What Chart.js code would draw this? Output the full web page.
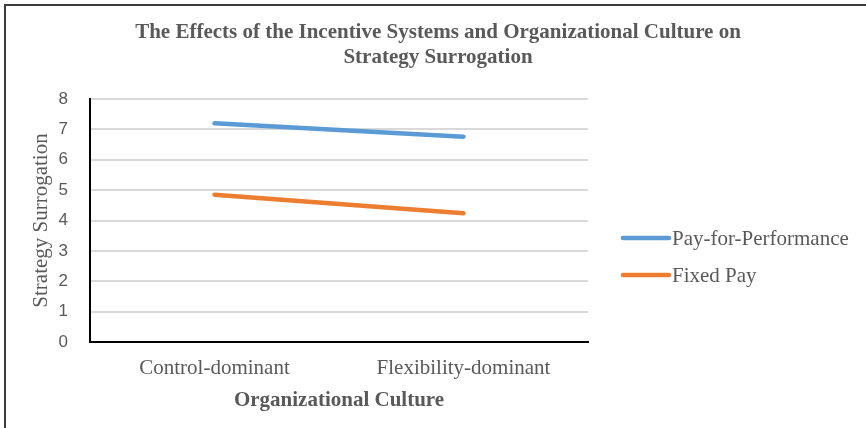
<!DOCTYPE html>
<html>
<head>
<meta charset="utf-8">
<script src="https://cdn.jsdelivr.net/npm/chart.js@4"></script>
<style>
    body { margin: 0; background: #fff; }
    #marco {
        position: absolute; left: 4px; top: 4px; width: 866px; height: 428px;
        border-top: 2px solid #3c3c3c; border-left: 2px solid #3c3c3c;
    }
    #lienzo { position: absolute; left: 0; top: 0; }
</style>
</head>
<body>
<div id="marco"></div>
<div id="lienzo" style="width:866px;height:428px"><canvas id="graficoCultura"></canvas></div>
<script>
// ------------------------------------------------ DATOS ------------------------------------------------

    const categorias = ["Control-dominant", "Flexibility-dominant"];
    const payForPerformance = [7.2, 6.76];
    const fixedPay = [4.85, 4.24];
    const ticksY = [0, 1, 2, 3, 4, 5, 6, 7, 8];
    const tituloLineas = ['The Effects of the Incentive Systems and Organizational Culture on', 'Strategy Surrogation'];

    const gris = '#595959';
    const serif = '"Liberation Serif", "Times New Roman", serif';

// ------------------------------------------------ TITULO Y LEYENDA A MANO ------------------------------------------------

    const tituloYLeyenda = {
        id: 'tituloYLeyenda',
        afterDraw(chart) {
            const ctx = chart.ctx;
            ctx.save();
            // titulo centrado en todo el lienzo
            ctx.fillStyle = gris;
            ctx.font = 'bold 21px ' + serif;
            ctx.textAlign = 'center';
            ctx.textBaseline = 'middle';
            tituloLineas.forEach((t, i) => ctx.fillText(t, 438, 33 + i * 25));

            // leyenda a la derecha
            const ys = [238, 275];
            ctx.textAlign = 'left';
            chart.data.datasets.forEach((ds, i) => {
                ctx.strokeStyle = ds.borderColor;
                ctx.lineWidth = 4.5;
                ctx.lineCap = 'round';
                ctx.beginPath();
                ctx.moveTo(623, ys[i]);
                ctx.lineTo(669, ys[i]);
                ctx.stroke();
                ctx.fillStyle = gris;
                ctx.font = '21px ' + serif;
                ctx.fillText(ds.label, 672, ys[i] + 1);
            });
            ctx.restore();
        }
    };

// ------------------------------------------------ GRAFICO ------------------------------------------------

    const configCultura = {
        type: 'line',
        data: {
            labels: categorias,
            datasets: [{
                label: 'Pay-for-Performance',
                data: payForPerformance,
                borderColor: '#5b9bd5',
                borderWidth: 4.5,
                borderCapStyle: 'round',
                pointRadius: 0
            },
            {
                label: 'Fixed Pay',
                data: fixedPay,
                borderColor: '#ed7d31',
                borderWidth: 4.5,
                borderCapStyle: 'round',
                pointRadius: 0
            }]
        },
        options: {
            responsive: true,
            maintainAspectRatio: false,
            animation: false,
            layout: { padding: { left: 0, right: 278, top: 99, bottom: 0 } },
            plugins: {
                legend: { display: false },
                tooltip: { enabled: false },
                title: { display: false }
            },
            scales: {
                x: {
                    offset: true,
                    grid: { display: false, drawTicks: false },
                    border: { color: '#000', width: 2 },
                    ticks: { color: gris, font: { size: 21, family: serif }, padding: 14 },
                    title: {
                        display: true,
                        text: 'Organizational Culture',
                        color: gris,
                        font: { size: 21, weight: 'bold', family: serif },
                        padding: { top: 0, bottom: 15 }
                    },
                    afterFit: s => { s.height = 86; }
                },
                y: {
                    min: 0,
                    max: 8,
                    afterBuildTicks: s => { s.ticks = ticksY.map(v => ({ value: v })); },
                    grid: { color: '#d9d9d9', lineWidth: 2, drawTicks: false },
                    border: { color: '#000', width: 2 },
                    ticks: { color: gris, font: { size: 17, family: '"Liberation Sans Narrow", "Liberation Sans", Arial, sans-serif' }, padding: 22 },
                    title: {
                        display: true,
                        text: 'Strategy Surrogation',
                        color: gris,
                        font: { size: 21, family: serif },
                        padding: { top: 29, bottom: 0 }
                    },
                    afterFit: s => { s.width = 90; }
                }
            }
        },
        plugins: [tituloYLeyenda]
    };

    var culturaChart = new Chart(
        document.getElementById('graficoCultura'),
        configCultura
    );
</script>
</body>
</html>
